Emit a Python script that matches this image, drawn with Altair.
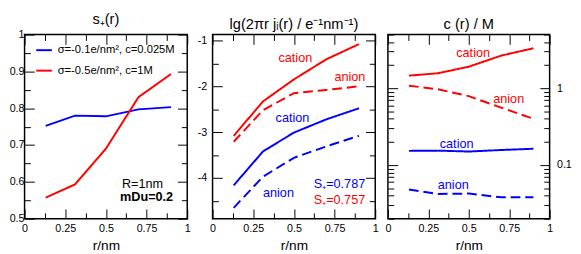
import altair as alt
import pandas as pd

# ---------------- data ----------------
r = [0.13, 0.31, 0.5, 0.7, 0.9]
cases = ["σ=-0.1e/nm², c=0.025M", "σ=-0.5e/nm², c=1M"]
ions = ["cation", "anion"]

# s+(r)
s_low = [0.752, 0.780, 0.778, 0.797, 0.803]
s_high = [0.557, 0.593, 0.690, 0.830, 0.893]

# lg(2 pi r j_i(r))
lgj_low_cation = [-4.16, -3.42, -3.01, -2.72, -2.48]
lgj_low_anion = [-4.65, -3.97, -3.56, -3.31, -3.08]
lgj_high_cation = [-3.08, -2.33, -1.85, -1.41, -1.08]
lgj_high_anion = [-3.21, -2.52, -2.15, -2.08, -2.00]

# c(r) / M
c_low_cation = [0.153, 0.154, 0.150, 0.157, 0.163]
c_low_anion = [0.048, 0.042, 0.0425, 0.038, 0.038]
c_high_cation = [1.46, 1.57, 1.91, 2.66, 3.32]
c_high_anion = [1.08, 0.97, 0.79, 0.56, 0.40]

# tick values
x_major = [0, 0.25, 0.5, 0.75, 1]
x_minor = [0.125, 0.375, 0.625, 0.875]
s_major = [0.5, 0.6, 0.7, 0.8, 0.9, 1]
s_minor = [0.55, 0.65, 0.75, 0.85, 0.95]
j_major = [-4, -3, -2, -1]
j_minor = [-4.5, -3.5, -2.5, -1.5]
c_major = [0.1, 1]
c_minor = [0.02, 0.03, 0.04, 0.05, 0.06, 0.07, 0.08, 0.09,
           0.2, 0.3, 0.4, 0.5, 0.6, 0.7, 0.8, 0.9, 2, 3, 4, 5]

# annotations
p1_text = ["R=1nm"]
p1_tx = [0.725]
p1_ty = [0.595]
p1_bold_text = ["mDu=0.2"]
p1_bold_tx = [0.75]
p1_bold_ty = [0.559]

p2_text = ["cation", "anion", "cation", "anion", "S₊=0.787", "S₊=0.757"]
p2_tx = [0.509, 0.844, 0.491, 0.405, 0.78, 0.78]
p2_ty = [-1.39, -1.81, -2.695, -4.34, -4.14, -4.48]
p2_case = [cases[1], cases[1], cases[0], cases[0], cases[0], cases[1]]

p3_text = ["cation", "anion", "cation", "anion"]
p3_tx = [0.527, 0.747, 0.425, 0.404]
p3_ty = [2.87, 0.715, 0.189, 0.0545]
p3_case = [cases[1], cases[1], cases[0], cases[0]]

# ---------------- styles ----------------
FONT = "Liberation Sans"
COLORS = ["#0000ff", "#ff0000"]
H = 189
MAJ, MIN = 10, 6
LABEL_EXPR = "'' + datum.value"


def long_df(series):
    rows = []
    for case, ion, vals in series:
        for x, v in zip(r, vals):
            rows.append({"r": x, "v": v, "case": case, "ion": ion})
    return pd.DataFrame(rows)


df1 = long_df([(cases[0], "cation", s_low), (cases[1], "cation", s_high)])
df2 = long_df([(cases[0], "cation", lgj_low_cation), (cases[0], "anion", lgj_low_anion),
               (cases[1], "cation", lgj_high_cation), (cases[1], "anion", lgj_high_anion)])
df3 = long_df([(cases[0], "cation", c_low_cation), (cases[0], "anion", c_low_anion),
               (cases[1], "cation", c_high_cation), (cases[1], "anion", c_high_anion)])

color_scale = alt.Scale(domain=cases, range=COLORS)
dash_scale = alt.Scale(domain=ions, range=[[1, 0], [10, 5]])
color_map = dict(zip(cases, COLORS))


def tick_layers(df, xscale, yscale, W, ymaj, ymin):
    layers = []
    for xo, yo in [("top", "right"), ("bottom", "left")]:
        for vals_x, vals_y, size in [(x_major, ymaj, MAJ), (x_minor, ymin, MIN)]:
            layers.append(
                alt.Chart(df).mark_line(opacity=0).encode(
                    x=alt.X("r:Q", scale=xscale,
                            axis=alt.Axis(orient=xo, offset=-H, values=vals_x, tickSize=size,
                                          tickWidth=1, labels=False, domain=False, grid=False,
                                          title=None, minExtent=0)),
                    y=alt.Y("v:Q", scale=yscale,
                            axis=alt.Axis(orient=yo, offset=-W, values=vals_y, tickSize=size,
                                          tickWidth=1, labels=False, domain=False, grid=False,
                                          title=None, minExtent=0)),
                )
            )
    return layers


def extent_layer(df, yscale, orient, extent):
    # empty axis that only reserves horizontal room beside the frame
    return alt.Chart(df).mark_line(opacity=0).encode(
        x=alt.X("r:Q", axis=None, scale=alt.Scale(domain=[0, 1], nice=False)),
        y=alt.Y("v:Q", scale=yscale,
                axis=alt.Axis(orient=orient, labels=False, ticks=False, tickSize=0, domain=False,
                              grid=False, title=None, minExtent=extent, maxExtent=extent)),
    )


def x_axis():
    return alt.Axis(orient="bottom", values=x_major, ticks=False, tickSize=0, domain=False,
                    grid=False, labelFlush=False, labelOverlap=False, labelFontSize=11,
                    labelPadding=4, title="r/nm", titleFontSize=14, titleFontWeight="normal",
                    titlePadding=6, labelExpr=LABEL_EXPR, minExtent=0)


def text_layer(tdf, xscale, yscale, bold=False, colored=True):
    enc = dict(
        x=alt.X("x:Q", scale=xscale, axis=None),
        y=alt.Y("y:Q", scale=yscale, axis=None),
        text="t:N",
    )
    if colored:
        enc["color"] = alt.Color("col:N", scale=None)
    return alt.Chart(tdf).mark_text(font=FONT, fontSize=13, fontWeight="bold" if bold else "normal",
                                    align="center", baseline="middle",
                                    color="black").encode(**enc)


def title(text):
    return alt.TitleParams(text, frame="group", offset=2, fontSize=15, font=FONT,
                           fontWeight="normal", anchor="middle", color="black")


# ---------------- panel 1 ----------------
W1 = 167
xs1 = alt.Scale(domain=[0, 1], nice=False)
ys1 = alt.Scale(domain=[0.5, 1], nice=False)
lines1 = alt.Chart(df1).mark_line(strokeWidth=2).encode(
    x=alt.X("r:Q", scale=xs1, axis=x_axis()),
    y=alt.Y("v:Q", scale=ys1,
            axis=alt.Axis(orient="left", values=s_major, ticks=False, tickSize=0, domain=False,
                          grid=False, labelFontSize=11, labelPadding=0.5, title=None,
                          labelExpr=LABEL_EXPR, minExtent=16, maxExtent=16)),
    color=alt.Color("case:N", scale=color_scale,
                    legend=alt.Legend(orient="none", legendX=11, legendY=7, title=None,
                                      symbolType="stroke", symbolStrokeWidth=2, symbolSize=256,
                                      labelFont=FONT, labelFontSize=11.5, labelColor="black",
                                      rowPadding=6, padding=0, labelOffset=5)),
)
t1 = text_layer(pd.DataFrame({"x": p1_tx, "y": p1_ty, "t": p1_text}), xs1, ys1, colored=False)
t1b = text_layer(pd.DataFrame({"x": p1_bold_tx, "y": p1_bold_ty, "t": p1_bold_text}), xs1, ys1,
                 bold=True, colored=False)
panel1 = alt.layer(lines1, t1, t1b, *tick_layers(df1, xs1, ys1, W1, s_major, s_minor)).resolve_axis(
    x="independent", y="independent").properties(width=W1, height=H, title=title("s₊(r)"))

# ---------------- panel 2 ----------------
W2 = 167
xs2 = alt.Scale(domain=[0, 1], nice=False)
ys2 = alt.Scale(domain=[-4.888, -0.873], nice=False, zero=False)
lines2 = alt.Chart(df2).mark_line(strokeWidth=2).encode(
    x=alt.X("r:Q", scale=xs2, axis=x_axis()),
    y=alt.Y("v:Q", scale=ys2,
            axis=alt.Axis(orient="left", values=j_major, ticks=False, tickSize=0, domain=False,
                          grid=False, labelFontSize=11, labelPadding=6, title=None,
                          labelExpr=LABEL_EXPR, minExtent=20.5, maxExtent=20.5)),
    color=alt.Color("case:N", scale=color_scale, legend=None),
    strokeDash=alt.StrokeDash("ion:N", scale=dash_scale, legend=None),
)
t2 = text_layer(pd.DataFrame({"x": p2_tx, "y": p2_ty, "t": p2_text,
                              "col": [color_map[c] for c in p2_case]}), xs2, ys2)
panel2 = alt.layer(lines2, t2, *tick_layers(df2, xs2, ys2, W2, j_major, j_minor)).resolve_axis(
    x="independent", y="independent").properties(
    width=W2, height=H, title=title("lg(2πr jᵢ(r) / e⁻¹nm⁻¹)"))

# ---------------- panel 3 ----------------
W3 = 166
xs3 = alt.Scale(domain=[0, 1], nice=False)
ys3 = alt.Scale(type="log", domain=[0.02, 5], nice=False)
lines3 = alt.Chart(df3).mark_line(strokeWidth=2).encode(
    x=alt.X("r:Q", scale=xs3, axis=x_axis()),
    y=alt.Y("v:Q", scale=ys3,
            axis=alt.Axis(orient="right", values=c_major, ticks=False, tickSize=0, domain=False,
                          grid=False, labelFontSize=11, labelPadding=7, title=None,
                          labelExpr=LABEL_EXPR, minExtent=0)),
    color=alt.Color("case:N", scale=color_scale, legend=None),
    strokeDash=alt.StrokeDash("ion:N", scale=dash_scale, legend=None),
)
t3 = text_layer(pd.DataFrame({"x": p3_tx, "y": p3_ty, "t": p3_text,
                              "col": [color_map[c] for c in p3_case]}), xs3, ys3)
panel3 = alt.layer(lines3, t3, extent_layer(df3, ys3, "left", 8),
                   *tick_layers(df3, xs3, ys3, W3, c_major, c_minor)).resolve_axis(
    x="independent", y="independent").properties(width=W3, height=H, title=title("c (r) / M"))

chart = alt.hconcat(panel1, panel2, panel3, spacing=0, bounds="full").resolve_legend(
    color="independent", strokeDash="independent"
).properties(padding=0).configure_view(
    stroke="black", strokeWidth=1.5
).configure_axis(
    labelFont=FONT, titleFont=FONT, labelColor="black", titleColor="black", tickColor="black",
    minExtent=0
)

chart.save("out.html", embed_options={"renderer": "svg", "actions": False})
